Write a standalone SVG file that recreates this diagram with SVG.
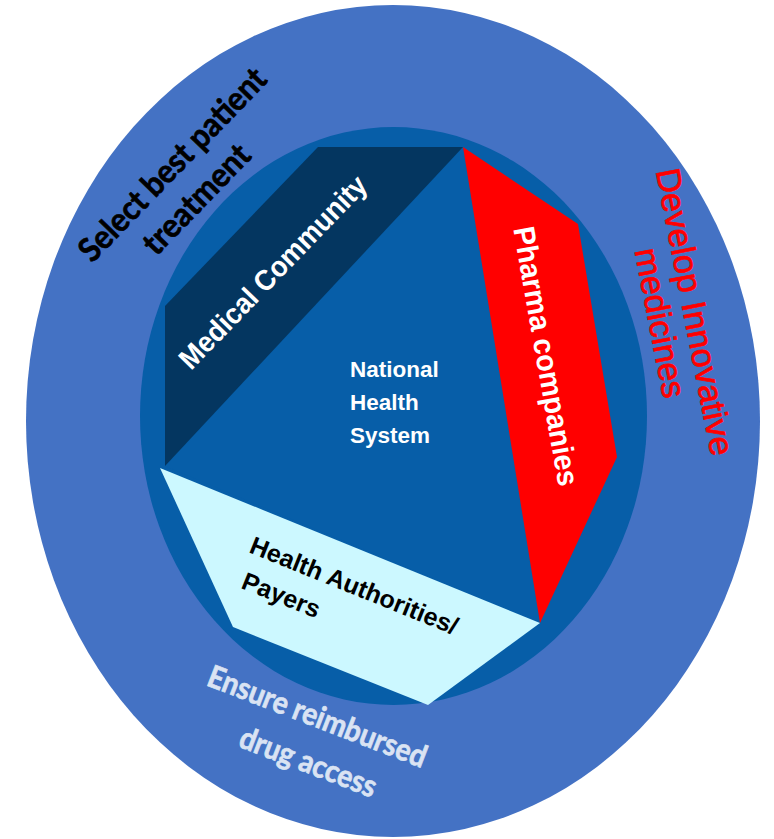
<svg xmlns="http://www.w3.org/2000/svg" width="774" height="839" viewBox="0 0 774 839">
  <style>
    .outer { fill: #4472c4; }
    .inner { fill: #075ea8; }
    .arial { font-family: "Liberation Sans", Arial, sans-serif; font-weight: bold; }
    .cal { font-family: Lato, "Open Sans", sans-serif; font-weight: bold; stroke-width: 0.7; }
    .role { font-family: "Liberation Sans", Arial, sans-serif; font-weight: normal; fill: #ff0000; stroke: #ff0000; stroke-width: 0.7; }
    .white { fill: #ffffff; }
    .black { fill: #000000; }
  </style>

  <rect width="774" height="839" fill="#ffffff"/>

  <!-- outer ring: roles of each stakeholder -->
  <g id="outer-ring">
    <ellipse class="outer" cx="393" cy="421" rx="367" ry="416"/>
  </g>

  <!-- inner disc -->
  <g id="inner-disc">
    <ellipse class="inner" cx="393.5" cy="416" rx="253.5" ry="289"/>
  </g>

  <!-- central triangle -->
  <g id="national-health-system">
    <polygon class="inner" points="463,147 165,466 540,623"/>
    <text class="arial white" font-size="22.5">
      <tspan x="350" y="377">National</tspan>
      <tspan x="350" y="410">Health</tspan>
      <tspan x="350" y="443">System</tspan>
    </text>
  </g>

  <g id="medical-community">
    <polygon fill="#043660" points="318,147 463,147 165,466 165,306"/>
    <text class="arial white" font-size="29" text-anchor="middle" textLength="256" lengthAdjust="spacingAndGlyphs"
          transform="translate(280,279) rotate(-46)">Medical Community</text>
  </g>

  <g id="pharma-companies">
    <polygon fill="#ff0000" points="463,147 578,224 617,457 540,623"/>
    <text class="arial white" font-size="30" text-anchor="middle" textLength="263" lengthAdjust="spacingAndGlyphs"
          transform="translate(536,358) rotate(80)">Pharma companies</text>
  </g>

  <g id="health-authorities">
    <polygon fill="#ccf8ff" points="160,468 540,623 428,705 233,627"/>
    <text class="arial black" font-size="25" transform="translate(248,552) rotate(22)">
      <tspan x="0" y="0" textLength="222" lengthAdjust="spacingAndGlyphs">Health Authorities/</tspan>
      <tspan x="6" y="36">Payers</tspan>
    </text>
  </g>

  <!-- ring captions -->
  <g id="caption-medical">
    <text class="cal black" stroke="#000000" font-size="33" text-anchor="middle" textLength="254" lengthAdjust="spacingAndGlyphs"
          transform="translate(180.5,172.5) rotate(-46)">Select best patient</text>
    <text class="cal black" stroke="#000000" font-size="33" text-anchor="middle" textLength="139" lengthAdjust="spacingAndGlyphs"
          transform="translate(204.5,207) rotate(-46)">treatment</text>
  </g>

  <g id="caption-pharma">
    <text class="role" font-size="34" text-anchor="middle" textLength="292" lengthAdjust="spacingAndGlyphs"
          transform="translate(683.5,314) rotate(79)">Develop Innovative</text>
    <text class="role" font-size="34" text-anchor="middle" textLength="152" lengthAdjust="spacingAndGlyphs"
          transform="translate(649,325) rotate(79)">medicines</text>
  </g>

  <g id="caption-payers">
    <text class="cal" fill="#dae3f3" stroke="#dae3f3" font-size="31" text-anchor="middle" textLength="232" lengthAdjust="spacingAndGlyphs"
          transform="translate(313.5,726.5) rotate(21)">Ensure reimbursed</text>
    <text class="cal" fill="#dae3f3" stroke="#dae3f3" font-size="31" text-anchor="middle" textLength="144" lengthAdjust="spacingAndGlyphs"
          transform="translate(304.5,772) rotate(21)">drug access</text>
  </g>

  <!-- no connectors in this diagram -->
  <g id="connectors"/>
</svg>
